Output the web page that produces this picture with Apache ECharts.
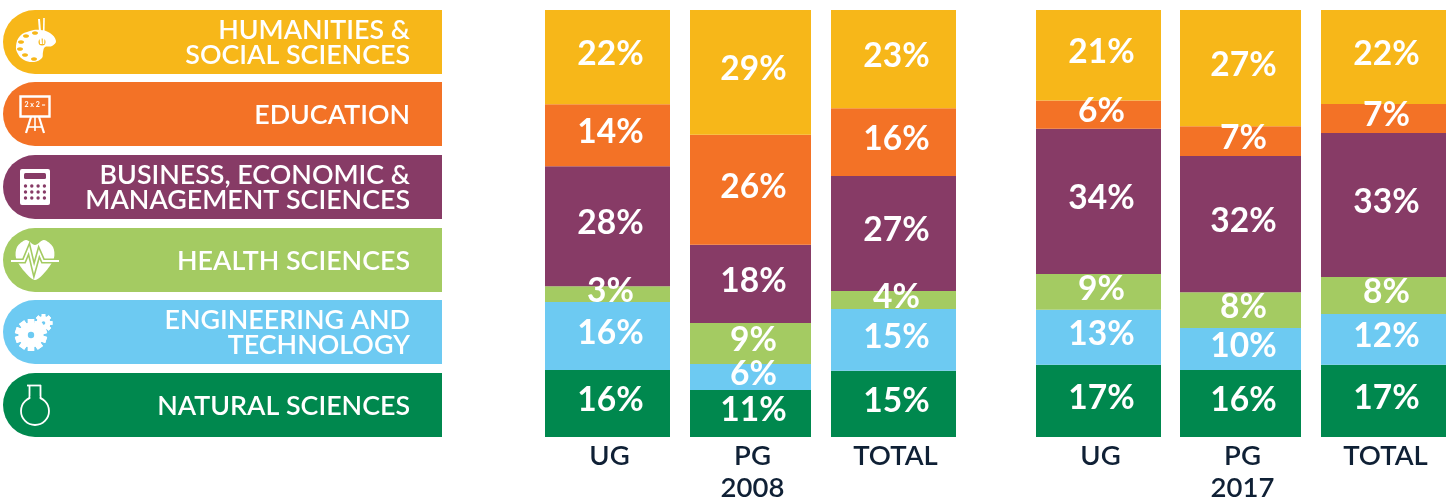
<!DOCTYPE html>
<html>
<head>
<meta charset="utf-8">
<style>
  html, body { margin: 0; padding: 0; background: #fff; overflow: hidden; }
  #chart { width: 1451px; height: 503px; }
</style>
<script src="https://cdn.jsdelivr.net/npm/echarts@6/dist/echarts.min.js"></script>
</head>
<body>
<div id="chart"></div>
<script>
// bar order: 2008 UG, PG, TOTAL then 2017 UG, PG, TOTAL
const categories = ['UG', 'PG\n2008', 'TOTAL', 'UG', 'PG\n2017', 'TOTAL']

// segment heights, the printed labels are rounded
const natural = [15.7, 11.0, 15.5, 16.9, 15.7, 16.9]
const engineering = [15.9, 6.1, 14.5, 12.9, 9.8, 11.9]
const health = [3.7, 9.6, 4.2, 8.4, 8.4, 8.7]
const business = [28.1, 18.3, 26.9, 34.0, 31.9, 33.7]
const education = [14.5, 25.8, 15.9, 6.6, 7.0, 6.8]
const humanities = [22.1, 29.2, 23.0, 21.2, 27.2, 22.0]

const naturalLabels = ['16%', '11%', '15%', '17%', '16%', '17%']
const engineeringLabels = ['16%', '6%', '15%', '13%', '10%', '12%']
const healthLabels = ['3%', '9%', '4%', '9%', '8%', '8%']
const businessLabels = ['28%', '18%', '27%', '34%', '32%', '33%']
const educationLabels = ['14%', '26%', '16%', '6%', '7%', '7%']
const humanitiesLabels = ['22%', '29%', '23%', '21%', '27%', '22%']

const FONT = 'Lato'
const INK = '#0f2035'

// stacked bottom to top
const groups = [
  { name: 'NATURAL SCIENCES', values: natural, labels: naturalLabels, color: '#00884e' },
  { name: 'ENGINEERING AND\nTECHNOLOGY', values: engineering, labels: engineeringLabels, color: '#6dcaf2' },
  { name: 'HEALTH SCIENCES', values: health, labels: healthLabels, color: '#a4cb62' },
  { name: 'BUSINESS, ECONOMIC &\nMANAGEMENT SCIENCES', values: business, labels: businessLabels, color: '#873b66' },
  { name: 'EDUCATION', values: education, labels: educationLabels, color: '#f37226' },
  { name: 'HUMANITIES &\nSOCIAL SCIENCES', values: humanities, labels: humanitiesLabels, color: '#f7b719' }
]

// every bar sits in its own grid, the PG ones are a little narrower
const barLeft = [545, 690, 831, 1036, 1180, 1321]
const barWidth = [125, 121, 125, 125, 121, 125]
const pillTop = [373, 300, 228, 155, 82, 10]

const grids = [], xAxes = [], yAxes = [], series = []
categories.forEach((cat, i) => {
  grids.push({ left: barLeft[i], width: barWidth[i], top: 10, height: 427, outerBoundsMode: 'none' })
  xAxes.push({
    type: 'category',
    gridIndex: i,
    data: [cat],
    axisLine: { show: false },
    axisTick: { show: false },
    axisLabel: {
      color: INK,
      fontFamily: FONT,
      fontWeight: 600,
      fontSize: 27.5,
      lineHeight: 32,
      margin: 3,
      padding: [0, 0, 0, 4],
      interval: 0,
      verticalAlign: 'top'
    }
  })
  yAxes.push({ type: 'value', gridIndex: i, min: 0, max: 100, show: false })
  groups.forEach(g => {
    series.push({
      name: g.name,
      type: 'bar',
      stack: 'bar' + i,
      xAxisIndex: i,
      yAxisIndex: i,
      barWidth: '100%',
      data: [g.values[i]],
      itemStyle: { color: g.color },
      label: {
        show: true,
        position: 'inside',
        offset: [3, -3],
        color: '#fff',
        fontFamily: FONT,
        fontWeight: 700,
        fontSize: 33.5,
        formatter: () => g.labels[i]
      }
    })
  })
})

// legend pills with the little white icons
const W = '#fff'
function gear(cx, cy, r, n, hole) {
  const out = []
  for (let k = 0; k < n; k++) {
    out.push({
      type: 'rect',
      x: cx, y: cy,
      rotation: k * Math.PI * 2 / n,
      shape: { x: -r * 0.2, y: -r, width: r * 0.4, height: r * 2 },
      style: { fill: W }
    })
  }
  out.push({ type: 'circle', shape: { cx: cx, cy: cy, r: r * 0.78 }, style: { fill: W } })
  out.push({ type: 'circle', shape: { cx: cx, cy: cy, r: r * 0.2 }, style: { fill: hole } })
  return out
}
function paletteIcon(c) {
  const out = [{
    type: 'polygon',
    shape: { smooth: 0.4, points: [[16, 46], [20, 36], [30, 31], [40, 30], [50, 33], [56, 41], [52, 46], [45, 47], [43, 52], [42, 58], [34, 62], [24, 60], [18, 54]] },
    style: { fill: W }
  }]
  ;[[21, 42], [20, 49], [25, 55], [34, 59], [26, 36], [35, 33]].forEach(p => {
    out.push({ type: 'ellipse', shape: { cx: p[0], cy: p[1], rx: 3, ry: 1.8 }, style: { fill: c } })
  })
  out.push({ type: 'circle', shape: { cx: 42, cy: 42, r: 3.5 }, style: { fill: c } })
  out.push({ type: 'line', shape: { x1: 39, y1: 19, x2: 41, y2: 44 }, style: { stroke: W, lineWidth: 2 } })
  out.push({ type: 'line', shape: { x1: 44, y1: 18, x2: 43.5, y2: 44 }, style: { stroke: W, lineWidth: 1.6 } })
  return out
}
function easelIcon() {
  return [
    { type: 'rect', shape: { x: 20.5, y: 96.5, width: 29, height: 20 }, style: { fill: 'none', stroke: W, lineWidth: 2.4 } },
    { type: 'text', x: 35, y: 105, style: { text: '2 x 2 =', fill: W, fontSize: 7, fontWeight: 700, fontFamily: FONT, align: 'center', verticalAlign: 'middle' } },
    { type: 'line', shape: { x1: 31, y1: 117, x2: 26, y2: 133 }, style: { stroke: W, lineWidth: 2.2 } },
    { type: 'line', shape: { x1: 39, y1: 117, x2: 44, y2: 133 }, style: { stroke: W, lineWidth: 2.2 } },
    { type: 'line', shape: { x1: 35, y1: 117, x2: 35, y2: 131 }, style: { stroke: W, lineWidth: 1.6 } },
    { type: 'line', shape: { x1: 28, y1: 127, x2: 42, y2: 127 }, style: { stroke: W, lineWidth: 1.6 } }
  ]
}
function calculatorIcon(c) {
  const out = [
    { type: 'rect', shape: { x: 20, y: 169, width: 30, height: 36, r: 2 }, style: { fill: W } },
    { type: 'rect', shape: { x: 24, y: 173, width: 22, height: 6, r: 1.5 }, style: { fill: c } }
  ]
  for (let row = 0; row < 3; row++) {
    for (let col = 0; col < 4; col++) {
      out.push({ type: 'circle', shape: { cx: 25.5 + col * 6.3, cy: 186 + row * 6, r: 1.7 }, style: { fill: c } })
    }
  }
  return out
}
function heartIcon(c) {
  const pulse = [[11, 261], [24, 261], [29, 249], [34, 270], [39, 252], [43, 261], [59, 261]]
  return [
    {
      type: 'polygon',
      shape: { smooth: 0.3, points: [[35, 280], [24, 271], [16, 258], [17, 247], [26, 240], [35, 245], [44, 240], [53, 247], [54, 258], [46, 271]] },
      style: { fill: W }
    },
    { type: 'polyline', shape: { points: pulse }, style: { fill: 'none', stroke: c, lineWidth: 5 } },
    { type: 'polyline', shape: { points: pulse }, style: { fill: 'none', stroke: W, lineWidth: 1.8 } }
  ]
}
function flaskIcon(c) {
  return [
    { type: 'line', shape: { x1: 27, y1: 385.5, x2: 41, y2: 385.5 }, style: { stroke: W, lineWidth: 1.8 } },
    { type: 'line', shape: { x1: 29.5, y1: 385, x2: 29.5, y2: 401 }, style: { stroke: W, lineWidth: 1.8 } },
    { type: 'line', shape: { x1: 40.5, y1: 385, x2: 40.5, y2: 401 }, style: { stroke: W, lineWidth: 1.8 } },
    { type: 'circle', shape: { cx: 35, cy: 411, r: 14 }, style: { fill: c, stroke: W, lineWidth: 1.8 } },
    { type: 'rect', shape: { x: 30.4, y: 396, width: 9.2, height: 5 }, style: { fill: c } }
  ]
}
const icons = [
  c => flaskIcon(c),
  c => gear(43.5, 323, 9, 8, c).concat(gear(31, 335, 16, 10, c)),
  c => heartIcon(c),
  c => calculatorIcon(c),
  () => easelIcon(),
  c => paletteIcon(c)
]

const graphic = []
groups.forEach((g, i) => {
  graphic.push({
    type: 'rect',
    shape: { x: 3, y: pillTop[i], width: 439, height: 64, r: [32, 0, 0, 32] },
    style: { fill: g.color }
  })
  graphic.push({
    type: 'text',
    x: 410,
    y: pillTop[i] + 33,
    style: {
      text: g.name,
      fill: '#fff',
      fontFamily: FONT,
      fontWeight: 600,
      fontSize: 26.8,
      lineHeight: 25,
      align: 'right',
      verticalAlign: 'middle'
    }
  })
  icons[i](g.color).forEach(el => graphic.push(el))
})

const chart = echarts.init(document.getElementById('chart'), null, { renderer: 'canvas' })
chart.setOption({
  animation: false,
  backgroundColor: '#fff',
  grid: grids,
  xAxis: xAxes,
  yAxis: yAxes,
  series: series,
  graphic: graphic
})
</script>
</body>
</html>
